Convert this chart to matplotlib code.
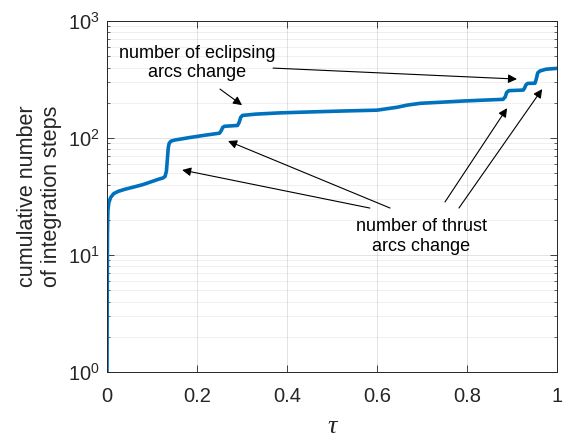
import numpy as np
import matplotlib
matplotlib.use("Agg")
import matplotlib.pyplot as plt
from matplotlib.ticker import LogLocator, NullFormatter

plt.rcParams['font.family'] = ['Liberation Sans', 'DejaVu Sans']

# cumulative number of integration steps vs normalised time tau
tau = [0.0, 0.0005, 0.001, 0.002, 0.004, 0.008, 0.015, 0.025, 0.04, 0.058, 0.08,
       0.096, 0.115, 0.124, 0.129, 0.132, 0.134, 0.136, 0.138, 0.142, 0.15,
       0.184, 0.22, 0.25, 0.254, 0.257, 0.261, 0.29, 0.294, 0.297, 0.301,
       0.33, 0.384, 0.45, 0.52, 0.6, 0.644, 0.667, 0.696, 0.74, 0.79, 0.84,
       0.88, 0.885, 0.888, 0.893, 0.925, 0.928, 0.931, 0.935, 0.951, 0.954,
       0.957, 0.962, 0.975, 1.0]
steps = [1, 5, 15, 24, 28, 31, 33.5, 35, 36.5, 38, 40,
         42, 44.5, 45.5, 47, 52, 65, 82, 90, 94, 96,
         101, 106, 110, 116, 123, 126, 128, 137, 150, 156,
         160, 164, 167, 170, 173, 183, 191, 198, 202, 207, 211,
         214, 225, 245, 254, 257, 268, 285, 293, 294, 320,
         360, 374, 387, 394]

# annotation arrows: (tail tau, tail steps) -> (head tau, head steps)
eclipse_tails = [(0.251, 262), (0.369, 396)]
eclipse_heads = [(0.30, 191), (0.911, 319)]
thrust_tails = [(0.584, 25.2), (0.629, 25.2), (0.751, 28.4), (0.782, 25.2)]
thrust_heads = [(0.167, 53.3), (0.269, 94.3), (0.889, 180), (0.967, 262)]

fig = plt.figure(figsize=(5.65, 4.37), dpi=100)
ax = fig.add_axes([0.1894, 0.1487, 0.7965, 0.8032])

ax.semilogy(tau, steps, color='#0072BD', lw=2.6, solid_joinstyle='round')

ax.set_xlim(0, 1)
ax.set_ylim(1, 1000)
ax.set_xticks(np.arange(0, 1.01, 0.2))
ax.set_xticklabels(['0', '0.2', '0.4', '0.6', '0.8', '1'])
ax.yaxis.set_major_locator(LogLocator(base=10, numticks=10))
ax.yaxis.set_minor_locator(LogLocator(base=10, subs=np.arange(2, 10), numticks=10))
ax.yaxis.set_minor_formatter(NullFormatter())

ax.grid(True, which='major', color='#262626', alpha=0.13, lw=0.7)
ax.grid(True, which='minor', axis='y', color='#262626', alpha=0.07, lw=0.7)

ax.tick_params(which='both', direction='in', top=True, right=True,
               colors='#262626', labelsize=14.5)
ax.tick_params(which='major', length=5, width=0.6)
ax.tick_params(which='minor', length=2.5, width=0.5)
ax.tick_params(axis='x', pad=11)
ax.tick_params(axis='y', pad=5)
for sp in ax.spines.values():
    sp.set_color('#262626')
    sp.set_linewidth(0.7)

ax.set_ylabel('cumulative number\nof integration steps', fontsize=15.5,
              color='#262626', linespacing=1.2)
ax.yaxis.set_label_coords(-0.1, 0.5)
ax.set_xlabel('\u03c4', fontsize=19, family='Liberation Serif', style='italic',
              color='#262626', labelpad=7)

ax.text(0.2, 437, 'number of eclipsing\narcs change', fontsize=13,
        ha='center', va='center', ma='center', linespacing=1.2)
ax.text(0.698, 14.4, 'number of thrust\narcs change', fontsize=13,
        ha='center', va='center', ma='center', linespacing=1.2)

arrow = dict(arrowstyle='-|>', color='black', lw=0.8, mutation_scale=13,
             shrinkA=0, shrinkB=0)
for t, h in zip(eclipse_tails + thrust_tails, eclipse_heads + thrust_heads):
    ax.annotate('', xy=h, xytext=t, arrowprops=arrow)

fig.savefig('out.png', dpi=100)
